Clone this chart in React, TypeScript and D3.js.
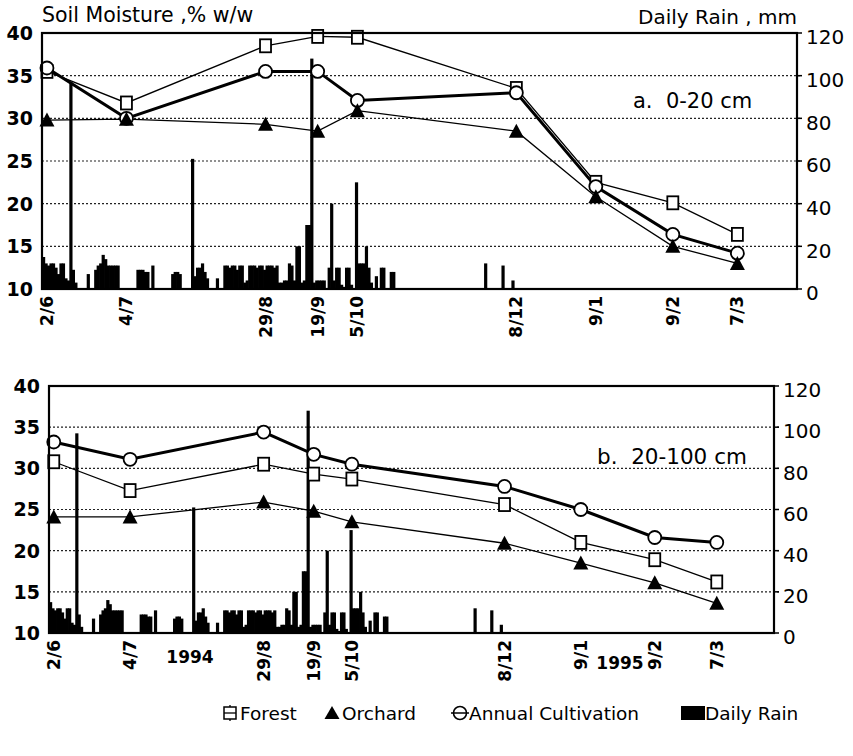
import React from 'react';
import * as d3 from 'd3';

// sampling dates shown on the x axis
const tickDates = ['1994-06-02', '1994-07-04', '1994-08-29', '1994-09-19', '1994-10-05', '1994-12-08', '1995-01-09', '1995-02-09', '1995-03-07'];
const tickLabels = ['2/6', '4/7', '29/8', '19/9', '5/10', '8/12', '9/1', '9/2', '7/3'];

// a. 0-20 cm
const forestTop = [35.5, 31.8, 38.5, 39.6, 39.5, 33.5, 22.5, 20.1, 16.4];
const orchardTop = [29.8, 29.9, 29.3, 28.5, 30.9, 28.5, 20.8, 15.0, 13.0];
const annualTop = [35.9, 30.0, 35.5, 35.5, 32.1, 33.0, 22.0, 16.4, 14.2];

// b. 20-100 cm
const forestSub = [30.8, 27.3, 30.5, 29.3, 28.7, 25.6, 21.0, 18.9, 16.2];
const orchardSub = [24.1, 24.1, 25.9, 24.8, 23.5, 20.9, 18.5, 16.1, 13.6];
const annualSub = [33.2, 31.1, 34.4, 31.7, 30.5, 27.8, 25.0, 21.6, 21.0];

// daily rain (mm)
const rainDates = [
  '1994-05-31', '1994-06-01', '1994-06-02', '1994-06-03', '1994-06-04', '1994-06-05', '1994-06-06', '1994-06-07',
  '1994-06-08', '1994-06-09', '1994-06-10', '1994-06-11', '1994-06-12', '1994-06-13', '1994-06-18', '1994-06-21',
  '1994-06-22', '1994-06-23', '1994-06-24', '1994-06-25', '1994-06-26', '1994-06-27', '1994-06-28', '1994-06-29',
  '1994-06-30', '1994-07-08', '1994-07-09', '1994-07-10', '1994-07-11', '1994-07-12', '1994-07-14', '1994-07-22',
  '1994-07-23', '1994-07-24', '1994-07-25', '1994-07-30', '1994-07-31', '1994-08-01', '1994-08-02', '1994-08-03',
  '1994-08-04', '1994-08-05', '1994-08-09', '1994-08-12', '1994-08-13', '1994-08-14', '1994-08-15', '1994-08-16',
  '1994-08-17', '1994-08-18', '1994-08-19', '1994-08-20', '1994-08-21', '1994-08-22', '1994-08-23', '1994-08-24',
  '1994-08-25', '1994-08-26', '1994-08-27', '1994-08-28', '1994-08-29', '1994-08-30', '1994-08-31', '1994-09-01',
  '1994-09-02', '1994-09-03', '1994-09-04', '1994-09-05', '1994-09-06', '1994-09-07', '1994-09-08', '1994-09-09',
  '1994-09-10', '1994-09-11', '1994-09-12', '1994-09-13', '1994-09-14', '1994-09-15', '1994-09-16', '1994-09-17',
  '1994-09-18', '1994-09-19', '1994-09-20', '1994-09-21', '1994-09-23', '1994-09-24', '1994-09-25', '1994-09-26',
  '1994-09-27', '1994-09-28', '1994-09-29', '1994-09-30', '1994-10-01', '1994-10-02', '1994-10-04', '1994-10-05',
  '1994-10-06', '1994-10-07', '1994-10-08', '1994-10-09', '1994-10-10', '1994-10-12', '1994-10-14', '1994-10-15',
  '1994-10-18', '1994-10-19', '1994-11-25', '1994-12-02', '1994-12-06',
];
const rainMm = [
  15, 12, 11, 12, 12, 10, 7, 12,
  12, 5, 4, 97, 9, 3, 7, 9,
  11, 12, 16, 14, 11, 11, 11, 11,
  11, 9, 9, 9, 8, 8, 11, 7,
  8, 8, 7, 61, 6, 10, 10, 12,
  8, 5, 5, 11, 11, 10, 11, 11,
  9, 11, 11, 3, 4, 11, 11, 11,
  10, 11, 11, 9, 11, 11, 11, 10,
  11, 3, 3, 4, 4, 12, 11, 4,
  20, 20, 3, 4, 30, 30, 108, 3,
  4, 4, 4, 4, 10, 40, 4, 10,
  10, 2, 1, 10, 10, 2, 50, 12,
  12, 12, 20, 10, 3, 6, 10, 10,
  8, 8, 12, 11, 4,
];

const moistureTicks = [10, 15, 20, 25, 30, 35, 40];
const rainTicks = [0, 20, 40, 60, 80, 100, 120];

const parse = d3.timeParse('%Y-%m-%d');
const FONT = '"DejaVu Sans", Arial, sans-serif';

function Panel({ box, forest, orchard, annual, label, labelX, labelY, labelSize, years }) {
  const x = d3.scaleTime()
    .domain([parse('1994-05-31'), parse('1995-03-31')])
    .range([box.left, box.right]);
  const y = d3.scaleLinear().domain([10, 40]).range([box.bottom, box.top]);
  const yr = d3.scaleLinear().domain([0, 120]).range([box.bottom, box.top]);

  const dates = tickDates.map(parse);
  const line = d3.line().x((d) => x(d[0])).y((d) => y(d[1]));
  const pts = (vals) => vals.map((v, i) => [dates[i], v]);

  return (
    <g>
      {/* dotted grid */}
      {moistureTicks.filter((t) => t > 10 && t < 40).map((t) => (
        <line key={t} x1={box.left} x2={box.right + 5} y1={y(t)} y2={y(t)}
          stroke="#222" strokeWidth={1.2} strokeDasharray="2,2" />
      ))}

      {/* daily rain */}
      {rainDates.map((ds, i) => {
        const d0 = parse(ds);
        const x0 = x(d0);
        const x1 = x(d3.timeDay.offset(d0, 1));
        return (
          <rect key={ds} x={x0} y={yr(rainMm[i])} width={Math.max(x1 - x0, 2.6) + 0.6}
            height={yr(0) - yr(rainMm[i])} fill="#000" />
        );
      })}

      <path d={line(pts(forest))} fill="none" stroke="#000" strokeWidth={1.3} />
      <path d={line(pts(orchard))} fill="none" stroke="#000" strokeWidth={1.3} />
      <path d={line(pts(annual))} fill="none" stroke="#000" strokeWidth={3} />

      {forest.map((v, i) => (
        <rect key={'f' + i} x={x(dates[i]) - 5.5} y={y(v) - 6.5} width={11} height={13}
          fill="#fff" stroke="#000" strokeWidth={1.8} />
      ))}
      {annual.map((v, i) => (
        <circle key={'a' + i} cx={x(dates[i])} cy={y(v)} r={6.5} fill="#fff" stroke="#000" strokeWidth={1.8} />
      ))}
      {orchard.map((v, i) => {
        const cx = x(dates[i]);
        const cy = y(v);
        return <path key={'o' + i} d={`M${cx},${cy - 7.5}L${cx + 7.5},${cy + 6.5}L${cx - 7.5},${cy + 6.5}Z`} fill="#000" />;
      })}

      {/* frame */}
      <rect x={box.left} y={box.top} width={box.right - box.left} height={box.bottom - box.top}
        fill="none" stroke="#000" strokeWidth={2.2} />

      {/* left axis */}
      {moistureTicks.map((t) => (
        <text key={'l' + t} x={box.left - 9} y={y(t)} dy="0.36em" textAnchor="end"
          fontSize={19} fontWeight="bold" fontFamily={FONT}>{t}</text>
      ))}
      {/* right axis */}
      {rainTicks.map((t) => (
        <g key={'r' + t}>
          <line x1={box.right} x2={box.right + 5} y1={yr(t)} y2={yr(t)} stroke="#000" strokeWidth={1.5} />
          <text x={box.right + 9} y={yr(t) + 4} dy="0.36em" textAnchor="start"
            fontSize={20} fontFamily={FONT}>{t}</text>
        </g>
      ))}
      {/* date labels */}
      {dates.map((d, i) => (
        <text key={'d' + i} transform={`translate(${x(d) + 6},${box.bottom + 7}) rotate(-90)`}
          textAnchor="end" fontSize={17} fontWeight="bold" fontFamily={FONT}>{tickLabels[i]}</text>
      ))}
      {years && years.map((yy) => (
        <text key={yy.text} x={yy.x} y={yy.y} textAnchor="middle" fontSize={17} fontWeight="bold"
          fontFamily={FONT}>{yy.text}</text>
      ))}

      <text x={labelX} y={labelY} fontSize={labelSize} fontFamily={FONT} style={{ whiteSpace: 'pre' }}>{label}</text>
    </g>
  );
}

export default function App() {
  const legendY = 713;
  return (
    <svg width={853} height={756} style={{ position: 'absolute', left: 0, top: 0, background: '#fff' }}>
      <text x={42} y={22} fontSize={20.5} fontFamily={FONT}>Soil Moisture ,% w/w</text>
      <text x={797} y={24} fontSize={20} fontFamily={FONT} textAnchor="end">Daily Rain , mm</text>

      <Panel box={{ left: 42, right: 797, top: 33, bottom: 289 }}
        forest={forestTop} orchard={orchardTop} annual={annualTop}
        label="a.  0-20 cm" labelX={633} labelY={108} labelSize={21} />

      <Panel box={{ left: 49, right: 774, top: 386, bottom: 633 }}
        forest={forestSub} orchard={orchardSub} annual={annualSub}
        label="b.  20-100 cm" labelX={597} labelY={464} labelSize={21.5}
        years={[{ text: '1994', x: 190, y: 663 }, { text: '1995', x: 620, y: 669 }]} />

      {/* legend */}
      <g fontFamily={FONT} fontSize={18.5}>
        <line x1={230} x2={230} y1={legendY - 8} y2={legendY + 8} stroke="#000" strokeWidth={1.3} />
        <rect x={224} y={legendY - 6} width={12} height={12} fill="#fff" stroke="#000" strokeWidth={1.5} />
        <line x1={224} x2={236} y1={legendY} y2={legendY} stroke="#000" strokeWidth={1.3} />
        <text x={240} y={legendY} dy="0.36em">Forest</text>

        <path d={`M332,${legendY - 7}L339.5,${legendY + 6}L324.5,${legendY + 6}Z`} fill="#000" />
        <text x={342} y={legendY} dy="0.36em">Orchard</text>

        <line x1={451} x2={469} y1={legendY} y2={legendY} stroke="#000" strokeWidth={1.5} />
        <circle cx={460} cy={legendY} r={6.5} fill="none" stroke="#000" strokeWidth={1.6} />
        <text x={469} y={legendY} dy="0.36em">Annual Cultivation</text>

        <rect x={681} y={legendY - 7} width={24} height={14} fill="#000" />
        <text x={705} y={legendY} dy="0.36em">Daily Rain</text>
      </g>
    </svg>
  );
}
